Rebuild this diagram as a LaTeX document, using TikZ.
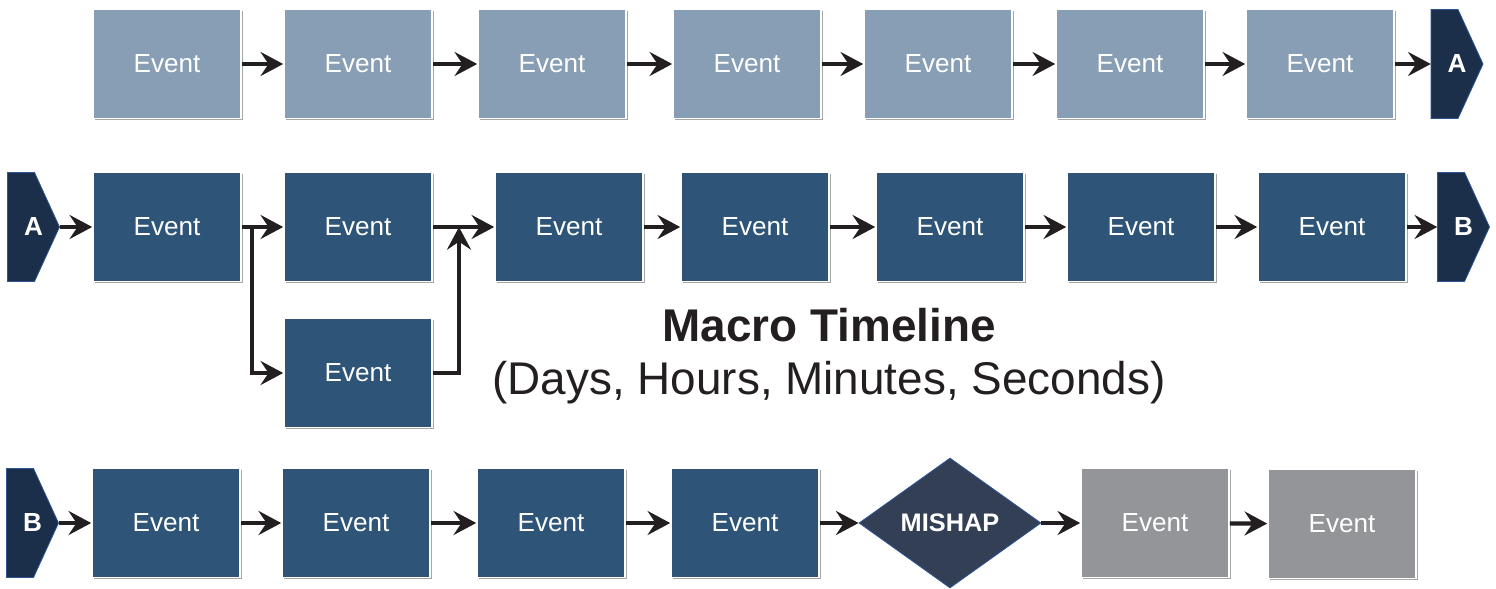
\documentclass[tikz,border=0pt]{standalone}
\usepackage{fontspec}
\setmainfont{Liberation Sans}
\usetikzlibrary{arrows.meta,shapes.geometric,shadows}

\definecolor{evlight}{RGB}{135,158,181}
\definecolor{evdark}{RGB}{46,84,120}
\definecolor{evgray}{RGB}{147,149,152}
\definecolor{tagnavy}{RGB}{27,47,74}
\definecolor{tagedge}{RGB}{47,85,151}
\definecolor{mishapfill}{RGB}{51,63,85}
\definecolor{flowline}{RGB}{35,31,32}

\tikzset{
	event/.style={rectangle, draw=white, line width=1.2pt, minimum width=111pt, minimum height=81.75pt,
		text=white, font=\fontsize{19.6}{22}\selectfont,
		drop shadow={shadow xshift=1.2pt, shadow yshift=-1.2pt, fill=black, opacity=0.35}},
	tag/.style={rectangle, minimum width=39pt, minimum height=81.75pt, inner sep=0pt,
		text=white, font=\bfseries\fontsize{19.6}{22}\selectfont},
	mishap/.style={diamond, fill=mishapfill, draw=tagedge, line width=0.6pt, minimum width=136.5pt,
		minimum height=97.5pt, inner sep=0pt, text=white, font=\bfseries\fontsize{19}{22}\selectfont},
	flow/.style={draw=flowline, line width=3.2pt, -{Stealth[length=17pt, width=18pt, inset=6pt]}},
}
% connector tag outline, centred at (x,y), in pixel units
\def\tagshape(#1,#2){\draw[fill=tagnavy, draw=tagedge, line width=0.6pt] (#1-26,#2-54.5) -- (#1+1,#2-54.5) -- (#1+26,#2) -- (#1+1,#2+54.5) -- (#1-26,#2+54.5) -- cycle;}

\begin{document}
\begin{tikzpicture}[x=0.75pt, y=-0.75pt]
			%%%%% START %%%%%
			\useasboundingbox (0,0) rectangle (1496,589);
			
			% first row
			\node[event, fill=evlight] (r1e1) at (167,64) {Event};
			\node[event, fill=evlight] (r1e2) at (358,64) {Event};
			\node[event, fill=evlight] (r1e3) at (552,64) {Event};
			\node[event, fill=evlight] (r1e4) at (747,64) {Event};
			\node[event, fill=evlight] (r1e5) at (938,64) {Event};
			\node[event, fill=evlight] (r1e6) at (1130,64) {Event};
			\node[event, fill=evlight] (r1e7) at (1320,64) {Event};
			\tagshape(1457,64)
			\node[tag] (r1tagA) at (1457,64) {A};
			
			\draw[flow] (r1e1) -- (r1e2);
			\draw[flow] (r1e2) -- (r1e3);
			\draw[flow] (r1e3) -- (r1e4);
			\draw[flow] (r1e4) -- (r1e5);
			\draw[flow] (r1e5) -- (r1e6);
			\draw[flow] (r1e6) -- (r1e7);
			\draw[flow] (r1e7) -- (r1tagA);
			
			% second row
			\tagshape(33.5,227)
			\node[tag] (r2tagA) at (33.5,227) {A};
			\node[event, fill=evdark] (r2e1) at (167,227) {Event};
			\node[event, fill=evdark] (r2e2) at (358,227) {Event};
			\node[event, fill=evdark] (r2low) at (358,373) {Event};
			\node[event, fill=evdark] (r2e3) at (569,227) {Event};
			\node[event, fill=evdark] (r2e4) at (755,227) {Event};
			\node[event, fill=evdark] (r2e5) at (950,227) {Event};
			\node[event, fill=evdark] (r2e6) at (1141,227) {Event};
			\node[event, fill=evdark] (r2e7) at (1332,227) {Event};
			\tagshape(1463.5,227)
			\node[tag] (r2tagB) at (1463.5,227) {B};
			\coordinate (split) at (252,227);
			\coordinate (join) at (459,227);
			
			\draw[flow] (r2tagA) -- (r2e1);
			\draw[flow] (r2e1) -- (r2e2);
			\draw[flow] (split) |- (r2low.west);
			\draw[flow] (r2low.east) -| (join);
			\draw[flow] (r2e2) -- (r2e3);
			\draw[flow] (r2e3) -- (r2e4);
			\draw[flow] (r2e4) -- (r2e5);
			\draw[flow] (r2e5) -- (r2e6);
			\draw[flow] (r2e6) -- (r2e7);
			\draw[flow] (r2e7) -- (r2tagB);
			
			\node[text=flowline, font=\bfseries\fontsize{34.4}{40}\selectfont] (title) at (829,325) {Macro Timeline};
			\node[text=flowline, font=\fontsize{34.4}{40}\selectfont] (subtitle) at (829,383) {(Days, Hours, Minutes, Seconds)};
			
			% third row
			\tagshape(32.5,523)
			\node[tag] (r3tagB) at (32.5,523) {B};
			\node[event, fill=evdark] (r3e1) at (166,523) {Event};
			\node[event, fill=evdark] (r3e2) at (356,523) {Event};
			\node[event, fill=evdark] (r3e3) at (551,523) {Event};
			\node[event, fill=evdark] (r3e4) at (745,523) {Event};
			\node[mishap] (mishap) at (950,523) {MISHAP};
			\node[event, fill=evgray] (r3e5) at (1155,523) {Event};
			\node[event, fill=evgray] (r3e6) at (1342,524) {Event};
			
			\draw[flow] (r3tagB) -- (r3e1);
			\draw[flow] (r3e1) -- (r3e2);
			\draw[flow] (r3e2) -- (r3e3);
			\draw[flow] (r3e3) -- (r3e4);
			\draw[flow] (r3e4) -- (mishap);
			\draw[flow] (mishap) -- (r3e5);
			\draw[flow] (r3e5) -- (r3e6);
			
			%%%%% END %%%%%
\end{tikzpicture}
\end{document}
